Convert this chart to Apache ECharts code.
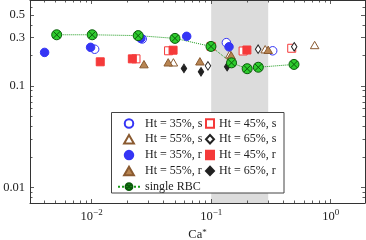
<!DOCTYPE html>
<html><head><meta charset="utf-8">
<script src="https://cdn.jsdelivr.net/npm/echarts@6/dist/echarts.min.js"></script>
<style>html,body{margin:0;padding:0;background:#fff}#c{width:366px;height:240px}</style>
</head><body><div id="c"></div>
<script>
// ---- data (Ca*, omega*/gammadot) ----
const ht35s = [[0.0106,0.23],[0.0265,0.29],[0.134,0.267],[0.327,0.222]];
const ht45s = [[0.0235,0.185],[0.044,0.222],[0.1,0.245],[0.185,0.221],[0.472,0.235]];
const ht55s = [[0.0483,0.171],[0.143,0.205],[0.283,0.23],[0.734,0.253]];
const ht65s = [[0.094,0.158],[0.247,0.23],[0.495,0.243]];
const ht35r = [[0.00404,0.214],[0.0098,0.24],[0.0258,0.294],[0.0624,0.308],[0.141,0.243]];
const ht45r = [[0.0118,0.173],[0.0219,0.185],[0.048,0.225],[0.199,0.226]];
const ht55r = [[0.0274,0.164],[0.0437,0.171],[0.0805,0.175],[0.147,0.2],[0.30,0.227]];
const ht65r = [[0.0592,0.149],[0.0822,0.138],[0.136,0.155]];
const singleRBC = [[0.0051,0.319],[0.0101,0.319],[0.0245,0.313],[0.0498,0.294],[0.0996,0.245],[0.148,0.169],[0.2,0.148],[0.248,0.153],[0.493,0.163]];
const shadeRange = [0.1, 0.3];

// ---- ticks ----
const xMajor = [0.01, 0.1, 1];
const xMinor = [0.004,0.005,0.006,0.007,0.008,0.009,0.02,0.03,0.04,0.05,0.06,0.07,0.08,0.09,0.2,0.3,0.4,0.5,0.6,0.7,0.8,0.9];
const xLabels = [0.01, 0.1, 1];
const xLabelText = {'0.01':'−2','0.1':'−1','1':'0'};
const yMajor = [0.01, 0.1, 0.3, 0.5];
const yMinor = [0.008,0.009,0.02,0.03,0.04,0.05,0.06,0.07,0.08,0.09,0.2,0.4,0.6];
const yLabels = [0.01, 0.1, 0.3, 0.5];

const FONT = 'Liberation Serif';
const AX = '#333';
const xMin = 0.00305, xMax = 1.936, yMin = 0.00708, yMax = 0.701;

function xAxisDef(pos, ticks, len, main) {
  const lab = main && pos === 'bottom';
  return {
    type: 'log', logBase: 10, min: xMin, max: xMax, position: pos,
    axisLine: {show: main, lineStyle: {color: AX, width: 1}},
    axisTick: {show: true, inside: true, length: len, customValues: ticks, lineStyle: {color: AX, width: 0.8}},
    minorTick: {show: false}, splitLine: {show: false},
    axisLabel: lab ? {
      show: true, customValues: xLabels, margin: 5,
      formatter: v => '{b|10}{s|' + xLabelText[String(+(+v).toPrecision(3))] + '}',
      rich: {
        b: {fontFamily: FONT, fontSize: 12.5, color: '#222', verticalAlign: 'bottom'},
        s: {fontFamily: FONT, fontSize: 9, color: '#222', verticalAlign: 'bottom', padding: [0,0,6,0]}
      }
    } : {show: false},
    name: lab ? 'Ca{s|*}' : '',
    nameLocation: 'middle', nameGap: 22,
    nameTextStyle: {fontFamily: FONT, fontSize: 12.5, color: '#222',
      rich: {s: {fontFamily: FONT, fontSize: 9, color: '#222', verticalAlign: 'bottom', padding: [0,0,5,0]}}}
  };
}
function yAxisDef(pos, ticks, len, main) {
  const lab = main && pos === 'left';
  return {
    type: 'log', logBase: 10, min: yMin, max: yMax, position: pos,
    axisLine: {show: main, lineStyle: {color: AX, width: 1}},
    axisTick: {show: true, inside: true, length: len, customValues: ticks, lineStyle: {color: AX, width: 0.8}},
    minorTick: {show: false}, splitLine: {show: false},
    axisLabel: lab ? {
      show: true, customValues: yLabels, margin: 5,
      fontFamily: FONT, fontSize: 12.5, color: '#222',
      formatter: v => String(+(+v).toPrecision(3))
    } : {show: false},
    name: lab ? 'ω̄{s|*}/γ̇' : '',
    nameLocation: 'middle', nameGap: 17, nameRotate: 90,
    nameTextStyle: {fontFamily: 'DejaVu Serif', fontSize: 11.5, color: '#222',
      rich: {s: {fontFamily: FONT, fontSize: 9, color: '#222', verticalAlign: 'bottom', padding: [0,0,5,0]}}}
  };
}

const BLUE = '#3535f5', RED = '#f53a3a', BROWN = '#b88552', BROWN_D = '#8a5a30', BLACK = '#222';
const crossCircle = 'path://M0,-10 A10,10 0 1,1 0,10 A10,10 0 1,1 0,-10 Z M-7,-7 L7,7 M-7,7 L7,-7';
const tri = 'path://M0,-10 L8.66,5 L-8.66,5 Z';

function sc(name, data, symbol, size, fill, stroke, z) {
  return {
    type: 'scatter', name, data, symbol, symbolSize: size, z: z, symbolKeepAspect: true,
    xAxisIndex: 0, yAxisIndex: 0,
    itemStyle: {color: fill, borderColor: stroke, borderWidth: 1, opacity: 1},
    emphasis: {disabled: true}, silent: true
  };
}

const chart = echarts.init(document.getElementById('c'), null, {renderer: 'canvas'});
chart.setOption({
  animation: false,
  backgroundColor: '#fff',
  grid: {left: 30, right: 1, top: 0, bottom: 37, containLabel: false, outerBoundsMode: 'none'},
  xAxis: [xAxisDef('bottom', xMajor, 4, true), xAxisDef('bottom', xMinor, 2.5, false),
          xAxisDef('top', xMajor, 4, true), xAxisDef('top', xMinor, 2.5, false)],
  yAxis: [yAxisDef('left', yMajor, 4, true), yAxisDef('left', yMinor, 2.5, false),
          yAxisDef('right', yMajor, 4, true), yAxisDef('right', yMinor, 2.5, false)],
  legend: [
    {left: 117, top: 117.5, orient: 'vertical', itemWidth: 22, itemHeight: 8.5, itemGap: 3.8, padding: 0,
     selectedMode: false, symbolKeepAspect: true,
     data: ['Ht = 35%, s', 'Ht = 55%, s', 'Ht = 35%, r', 'Ht = 55%, r', 'single RBC'],
     textStyle: {fontFamily: FONT, fontSize: 12, color: '#222'}},
    {left: 205, top: 117.5, orient: 'vertical', itemWidth: 8, itemHeight: 8.5, itemGap: 3.8, padding: 0,
     selectedMode: false, symbolKeepAspect: true,
     data: ['Ht = 45%, s', 'Ht = 65%, s', 'Ht = 45%, r', 'Ht = 65%, r'],
     textStyle: {fontFamily: FONT, fontSize: 12, color: '#222'}}
  ],
  graphic: [{type: 'rect', left: 111, top: 112, shape: {width: 172.5, height: 80.5}, z: 3,
             style: {fill: '#fff', stroke: '#444', lineWidth: 1}, silent: true}],
  series: [
    {type: 'line', name: 'shade', data: [], z: 0, silent: true, xAxisIndex: 0, yAxisIndex: 0,
     markArea: {silent: true, z: 0, itemStyle: {color: '#dcdcdc'},
       data: [[{xAxis: shadeRange[0]}, {xAxis: shadeRange[1]}]]}},
    sc('Ht = 35%, s', ht35s, 'circle', 8.5, '#fff', BLUE, 2),
    sc('Ht = 45%, s', ht45s, 'rect', 8, '#fff', RED, 2),
    sc('Ht = 55%, s', ht55s, tri, 8.5, '#fff', BROWN_D, 2),
    sc('Ht = 65%, s', ht65s, 'diamond', [5.5, 8.5], '#fff', BLACK, 2),
    sc('Ht = 35%, r', ht35r, 'circle', 8.5, BLUE, BLUE, 2),
    sc('Ht = 45%, r', ht45r, 'rect', 8, RED, RED, 2),
    sc('Ht = 55%, r', ht55r, tri, 8.5, BROWN, BROWN_D, 2),
    sc('Ht = 65%, r', ht65r, 'diamond', [5.5, 8.5], BLACK, BLACK, 2),
    {type: 'line', name: 'single RBC', data: singleRBC, z: 2, xAxisIndex: 0, yAxisIndex: 0,
     symbol: crossCircle, symbolSize: 10, showSymbol: true, silent: true,
     lineStyle: {color: '#1a9a1a', width: 1, type: 'dotted'},
     itemStyle: {color: '#2ecc2e', borderColor: '#0a5a0a', borderWidth: 1},
     emphasis: {disabled: true}}
  ]
});
</script>
</body></html>
